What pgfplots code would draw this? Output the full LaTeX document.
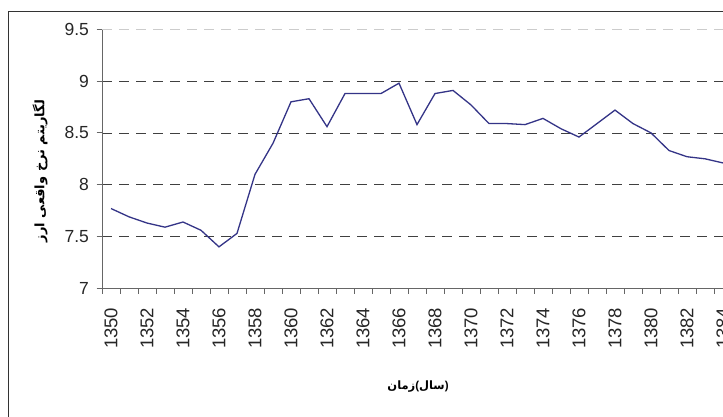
\documentclass[border=0pt]{standalone}
\usepackage{fontspec}
\setmainfont{Liberation Sans}
\newfontfamily\arabicfont[Script=Arabic]{DejaVu Sans}
\TeXXeTstate=1
\usepackage{pgfplots}
\pgfplotsset{compat=1.18}
\usepackage{pgfplotstable}
\definecolor{linecol}{RGB}{52,52,135}
\pgfplotstableread{
year val
1350 7.77
1351 7.69
1352 7.63
1353 7.59
1354 7.64
1355 7.56
1356 7.40
1357 7.53
1358 8.10
1359 8.40
1360 8.80
1361 8.83
1362 8.56
1363 8.88
1364 8.88
1365 8.88
1366 8.98
1367 8.58
1368 8.88
1369 8.91
1370 8.77
1371 8.59
1372 8.59
1373 8.58
1374 8.64
1375 8.54
1376 8.46
1377 8.59
1378 8.72
1379 8.59
1380 8.50
1381 8.33
1382 8.27
1383 8.25
1384 8.21
}\datatable
\begin{document}
\begin{tikzpicture}
\useasboundingbox (0pt,0pt) rectangle (723pt,416pt);
\fill[white] (0pt,0pt) rectangle (723pt,416pt);
\clip (0pt,0pt) rectangle (723pt,416pt);
\begin{axis}[
  at={(102pt,127.7pt)}, anchor=south west,
  scale only axis, width=630pt, height=259pt,
  xmin=1349.5, xmax=1384.5, ymin=7, ymax=9.5,
  axis x line=bottom, axis y line=left,
  axis line style={-, draw=black!60, line width=0.9pt},
  tick align=outside,
  major tick length=5.5pt,
  tick style={draw=black!60, line width=0.9pt},
  xtick={1349.5,1350.5,...,1384.5},
  xticklabels={},
  extra x ticks={1350,1352,...,1384},
  extra x tick labels={1350,1352,1354,1356,1358,1360,1362,1364,1366,1368,1370,1372,1374,1376,1378,1380,1382,1384},
  extra x tick style={major tick length=0pt},
  ytick={7,7.5,8,8.5,9},
  extra y ticks={9.5},
  extra y tick style={grid style={dash pattern=on 10pt off 7pt, black!20, line width=0.8pt}},
  ymajorgrids=true,
  grid style={dash pattern=on 10pt off 7pt, black!75, line width=0.8pt},
  /pgf/number format/assume math mode=true,
  tick label style={black!85},
  yticklabel style={font=\fontsize{17.5}{20}\selectfont, xshift=-4pt},
  xticklabel style={font=\fontsize{18.5}{20}\selectfont, rotate=90, anchor=east},
  xticklabel shift=16pt,
  xlabel={\fontsize{11.5}{14}\selectfont\bfseries\hbox{\arabicfont\beginR زمان\endR}\hbox{(}\hbox{\arabicfont\beginR سال\endR}\hbox{)}},
  xlabel style={at={(rel axis cs:0.5016,-0.381)}, anchor=center},
  ylabel={\arabicfont\bfseries\fontsize{13}{15}\selectfont \beginR لگاریتم نرخ واقعی ارز\endR},
  ylabel style={at={(rel axis cs:-0.0984,0.453)}, anchor=center},
]
\addplot[linecol, line width=1.3pt, mark=none, sharp plot] table[x=year, y=val] {\datatable};
\end{axis}
\draw[black!80, line width=1.3pt] (8.5pt,-5pt) -- (8.5pt,404.5pt) -- (740pt,404.5pt);
\end{tikzpicture}
\end{document}
